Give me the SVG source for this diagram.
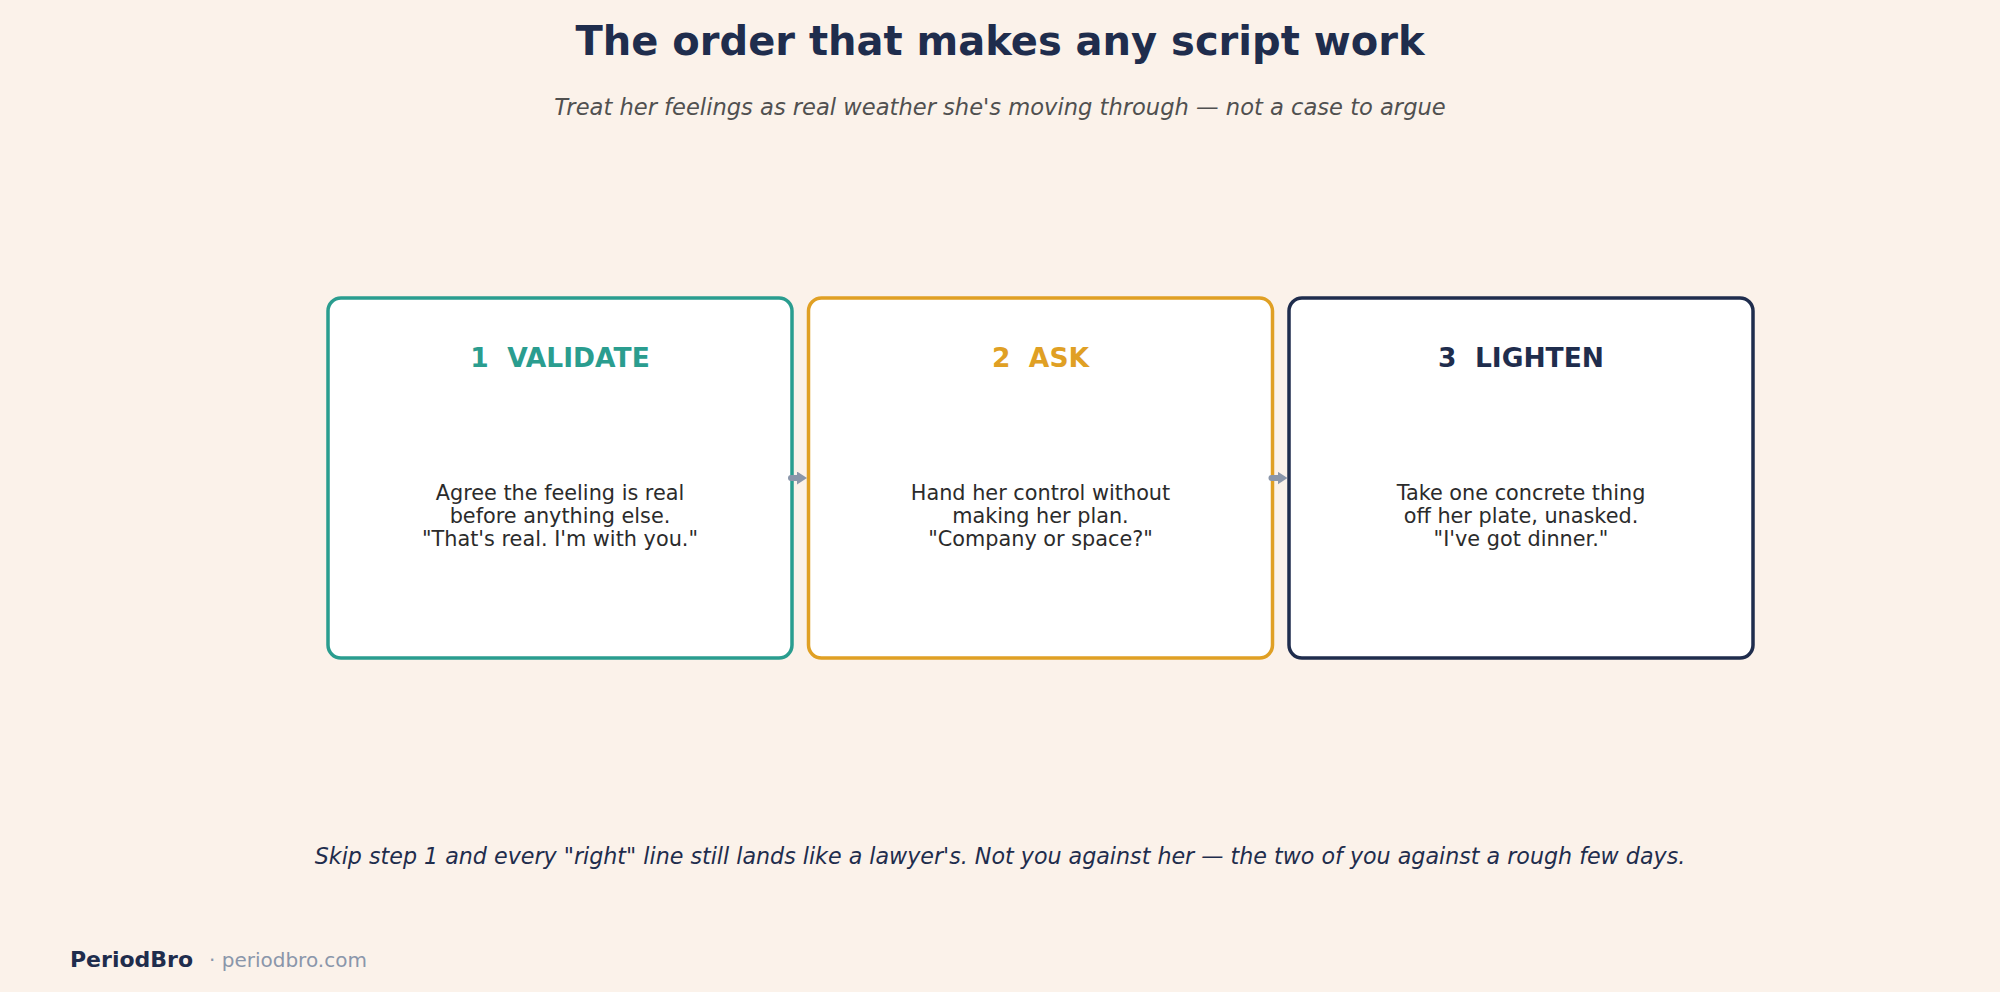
<svg xmlns="http://www.w3.org/2000/svg" width="2000" height="992" viewBox="0 0 2000 992">
<style>
.t{font-family:"DejaVu Sans",sans-serif}
.box{fill:#ffffff;stroke-width:3.5}
.head{font-family:"DejaVu Sans",sans-serif;font-weight:bold;font-size:26.5px;text-anchor:middle;white-space:pre}
.body{font-family:"DejaVu Sans",sans-serif;font-size:20.8px;fill:#2b2b2b;text-anchor:middle}
.conn{stroke:#8a96aa;stroke-width:6;fill:none;stroke-linecap:round}
</style>
<defs>
<marker id="ah" viewBox="0 0 10 13" refX="0" refY="6.5" markerWidth="10" markerHeight="13" orient="auto" markerUnits="userSpaceOnUse">
<path d="M0,0 L10,6.5 L0,13 z" fill="#8a96aa"/>
</marker>
</defs>
<rect width="2000" height="992" fill="#fbf2ea"/>
<text class="t" x="1000" y="55" font-size="40" font-weight="bold" fill="#1f2d4d" text-anchor="middle">The order that makes any script work</text>
<text class="t" x="1000" y="115" font-size="22.6" font-style="italic" fill="#505050" text-anchor="middle">Treat her feelings as real weather she's moving through — not a case to argue</text>

<g id="step1">
<rect class="box" x="328" y="298" width="464" height="360" rx="13" stroke="#2a9d8f"/>
<text class="head" x="560" y="367" fill="#2a9d8f">1  VALIDATE</text>
<text class="body" x="560" y="500">Agree the feeling is real</text>
<text class="body" x="560" y="523">before anything else.</text>
<text class="body" x="560" y="546">"That's real. I'm with you."</text>
</g>
<g id="step2">
<rect class="box" x="808.5" y="298" width="464" height="360" rx="13" stroke="#e0a024"/>
<text class="head" x="1040.5" y="367" fill="#e0a024">2  ASK</text>
<text class="body" x="1040.5" y="500">Hand her control without</text>
<text class="body" x="1040.5" y="523">making her plan.</text>
<text class="body" x="1040.5" y="546">"Company or space?"</text>
</g>
<g id="step3">
<rect class="box" x="1289" y="298" width="464" height="360" rx="13" stroke="#1f2d4d"/>
<text class="head" x="1521" y="367" fill="#1f2d4d">3  LIGHTEN</text>
<text class="body" x="1521" y="500">Take one concrete thing</text>
<text class="body" x="1521" y="523">off her plate, unasked.</text>
<text class="body" x="1521" y="546">"I've got dinner."</text>
</g>

<g id="connectors">
<line class="conn" x1="791" y1="478" x2="797" y2="478" marker-end="url(#ah)"/>
<line class="conn" x1="1271.5" y1="478" x2="1277.5" y2="478" marker-end="url(#ah)"/>
</g>

<text class="t" x="1000" y="864" font-size="22.2" font-style="italic" fill="#1f2d4d" text-anchor="middle">Skip step 1 and every "right" line still lands like a lawyer's. Not you against her — the two of you against a rough few days.</text>
<text class="t" x="70" y="967" font-size="22" font-weight="bold" fill="#1f2d4d">PeriodBro</text>
<text class="t" x="209" y="967" font-size="20" fill="#8a96aa">· periodbro.com</text>
</svg>
